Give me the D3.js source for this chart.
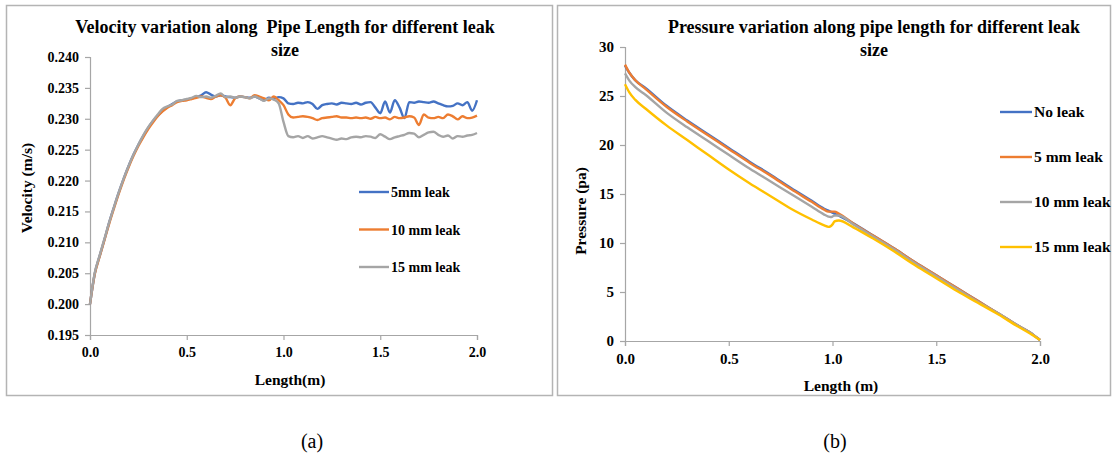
<!DOCTYPE html>
<html>
<head>
<meta charset="utf-8">
<script src="https://cdn.jsdelivr.net/npm/d3@7"></script>
<style>
  body { margin: 0; background: #fff; }
  svg { display: block; }
</style>
</head>
<body>
<svg id="fig" width="1114" height="456"></svg>
<script>
// ---- velocity data (panel a) ----
const velX = [0, 0.025, 0.05, 0.075, 0.1, 0.125, 0.15, 0.175, 0.2, 0.225, 0.25, 0.275, 0.3, 0.325, 0.35, 0.375, 0.4, 0.425, 0.45, 0.475,
  0.5, 0.525, 0.55, 0.575, 0.6, 0.625, 0.65, 0.675, 0.7, 0.725, 0.75, 0.775, 0.8, 0.825, 0.85, 0.875, 0.9, 0.925, 0.95, 0.975,
  1.0, 1.025, 1.05, 1.075, 1.1, 1.125, 1.15, 1.175, 1.2, 1.225, 1.25, 1.275, 1.3, 1.325, 1.35, 1.375, 1.4, 1.425, 1.45, 1.475,
  1.5, 1.525, 1.55, 1.575, 1.6, 1.625, 1.65, 1.675, 1.7, 1.725, 1.75, 1.775, 1.8, 1.825, 1.85, 1.875, 1.9, 1.925, 1.95, 1.975, 2.0];

const vel5mm = [0.2000, 0.2050, 0.2078, 0.2105, 0.2133, 0.2158, 0.2182, 0.2204, 0.2224, 0.2242, 0.2258, 0.2272, 0.2285, 0.2296, 0.2305, 0.2313, 0.2319, 0.2324, 0.2328, 0.2330,
  0.2331, 0.2333, 0.2335, 0.2338, 0.2343, 0.2339, 0.2336, 0.2338, 0.2336, 0.2335, 0.2334, 0.2336, 0.2335, 0.2334, 0.2336, 0.2333, 0.2330, 0.2334, 0.2333, 0.2335,
  0.2333, 0.2325, 0.2324, 0.2326, 0.2325, 0.2327, 0.2324, 0.2316, 0.2322, 0.2324, 0.2325, 0.2323, 0.2326, 0.2325, 0.2324, 0.2326, 0.2323, 0.2326, 0.2327, 0.2318,
  0.2309, 0.2328, 0.2310, 0.2330, 0.2318, 0.2301, 0.2327, 0.2326, 0.2328, 0.2327, 0.2326, 0.2328, 0.2325, 0.2322, 0.2320, 0.2321, 0.2325, 0.2322, 0.2327, 0.2313, 0.2330];

const vel10mm = [0.2000, 0.2049, 0.2077, 0.2104, 0.2131, 0.2156, 0.2180, 0.2202, 0.2222, 0.2240, 0.2256, 0.2270, 0.2283, 0.2294, 0.2304, 0.2312, 0.2318, 0.2322, 0.2327, 0.2329,
  0.2330, 0.2332, 0.2334, 0.2336, 0.2334, 0.2332, 0.2336, 0.2338, 0.2334, 0.2322, 0.2333, 0.2336, 0.2335, 0.2333, 0.2338, 0.2336, 0.2333, 0.2330, 0.2336, 0.2330,
  0.2322, 0.2307, 0.2302, 0.2303, 0.2304, 0.2303, 0.2301, 0.2298, 0.2301, 0.2302, 0.2303, 0.2304, 0.2302, 0.2302, 0.2301, 0.2302, 0.2301, 0.2302, 0.2300, 0.2303,
  0.2301, 0.2302, 0.2299, 0.2303, 0.2301, 0.2302, 0.2304, 0.2302, 0.2290, 0.2307, 0.2302, 0.2301, 0.2303, 0.2301, 0.2307, 0.2304, 0.2299, 0.2304, 0.2301, 0.2302, 0.2305];

const vel15mm = [0.2000, 0.2051, 0.2079, 0.2106, 0.2133, 0.2158, 0.2182, 0.2204, 0.2224, 0.2242, 0.2258, 0.2273, 0.2286, 0.2297, 0.2307, 0.2316, 0.2320, 0.2323, 0.2329, 0.2330,
  0.2332, 0.2334, 0.2337, 0.2335, 0.2336, 0.2334, 0.2337, 0.2341, 0.2335, 0.2336, 0.2334, 0.2336, 0.2335, 0.2333, 0.2336, 0.2333, 0.2329, 0.2333, 0.2331, 0.2325,
  0.2295, 0.2272, 0.2270, 0.2272, 0.2269, 0.2272, 0.2268, 0.2270, 0.2272, 0.2270, 0.2268, 0.2266, 0.2268, 0.2267, 0.2270, 0.2271, 0.2270, 0.2272, 0.2271, 0.2269,
  0.2275, 0.2271, 0.2267, 0.2270, 0.2272, 0.2274, 0.2277, 0.2276, 0.2270, 0.2274, 0.2278, 0.2279, 0.2274, 0.2271, 0.2273, 0.2268, 0.2272, 0.2271, 0.2273, 0.2274, 0.2277];

const velNames = ["5mm leak", "10 mm leak", "15 mm leak"];
const velTicks = [0.195, 0.200, 0.205, 0.210, 0.215, 0.220, 0.225, 0.230, 0.235, 0.240];

// ---- pressure data (panel b) ----
const presX = [0, 0.02, 0.05, 0.1, 0.2, 0.3, 0.4, 0.5, 0.6, 0.7, 0.8, 0.9, 0.96, 0.98, 0.99, 1.0, 1.01, 1.03, 1.1, 1.2, 1.3, 1.4, 1.5, 1.6, 1.7, 1.8, 1.9, 1.95, 2.0];
const presNoLeak = [28.1, 27.4, 26.6, 25.8, 24.0, 22.5, 21.1, 19.7, 18.3, 17.0, 15.6, 14.3, 13.5, 13.3, 13.2, 13.1, 13.0, 12.8, 12.0, 10.7, 9.4, 8.0, 6.7, 5.4, 4.1, 2.8, 1.5, 0.9, 0.1];
const pres5mm = [28.2, 27.4, 26.6, 25.7, 23.9, 22.4, 21.0, 19.6, 18.2, 16.9, 15.5, 14.2, 13.4, 13.2, 13.2, 13.2, 13.2, 13.0, 12.0, 10.7, 9.4, 8.0, 6.7, 5.4, 4.1, 2.8, 1.5, 0.9, 0.1];
const pres10mm = [27.3, 26.6, 25.9, 25.1, 23.3, 21.8, 20.4, 19.0, 17.6, 16.3, 15.0, 13.7, 12.9, 12.7, 12.65, 12.7, 12.8, 12.8, 11.9, 10.6, 9.3, 7.9, 6.6, 5.3, 4.0, 2.8, 1.5, 0.9, 0.1];
const pres15mm = [26.2, 25.4, 24.6, 23.7, 22.0, 20.5, 19.0, 17.5, 16.1, 14.8, 13.5, 12.4, 11.8, 11.65, 11.7, 11.9, 12.2, 12.3, 11.6, 10.4, 9.1, 7.7, 6.4, 5.1, 3.9, 2.7, 1.4, 0.8, 0.1];
const presNames = ["No leak", "5 mm leak", "10 mm leak", "15 mm leak"];
const presTicks = [0, 5, 10, 15, 20, 25, 30];

const xTicks = [0, 0.5, 1.0, 1.5, 2.0];
const blue = "#4472C4", orange = "#ED7D31", grey = "#A5A5A5", yellow = "#FFC000";
const axisColor = "#A6A6A6";
const serif = "'Liberation Serif', 'Times New Roman', serif";

const svg = d3.select("#fig");
svg.append("rect").attr("width", 1114).attr("height", 456).attr("fill", "#fff");

// panel frames
svg.append("rect").attr("x", 6.5).attr("y", 5.5).attr("width", 546).attr("height", 390)
  .attr("fill", "none").attr("stroke", "#B4B4B4").attr("stroke-width", 1.5);
svg.append("rect").attr("x", 557.5).attr("y", 5.5).attr("width", 553).attr("height", 390)
  .attr("fill", "none").attr("stroke", "#B4B4B4").attr("stroke-width", 1.5);

function bold(sel, size) {
  return sel.style("font-family", serif).style("font-weight", "bold").style("font-size", size + "px");
}

function drawChart(o) {
  const g = svg.append("g");
  const x = d3.scaleLinear().domain([0, 2]).range([o.left, o.right]);
  const y = d3.scaleLinear().domain(o.yDomain).range([o.bottom, o.top]);

  const xAxis = g.append("g").attr("transform", `translate(0,${o.bottom})`)
    .call(d3.axisBottom(x).tickValues(xTicks).tickFormat(d3.format(".1f")).tickSize(5).tickPadding(7));
  const yAxis = g.append("g").attr("transform", `translate(${o.left},0)`)
    .call(d3.axisLeft(y).tickValues(o.yTicks).tickFormat(o.yFormat).tickSize(5).tickPadding(6));
  [xAxis, yAxis].forEach(a => {
    a.attr("font-family", null);
    a.select(".domain").attr("stroke", axisColor).attr("stroke-width", 1.2);
    a.selectAll(".tick line").attr("stroke", axisColor).attr("stroke-width", 1.2);
    bold(a.selectAll("text").attr("fill", "#000"), o.tickSize);
  });

  const line = d3.line()
    .x((d, i) => x(o.xs[i]))
    .y(d => y(d))
    .curve(d3.curveMonotoneX);

  o.series.forEach(s => {
    g.append("path").datum(s.values)
      .attr("fill", "none").attr("stroke", s.color)
      .attr("stroke-width", 2.4).attr("stroke-linejoin", "round")
      .attr("d", line);
  });

  // title
  const t = bold(g.append("text").attr("text-anchor", "middle"), 18);
  t.append("tspan").attr("x", o.titleX).attr("y", o.titleY).text(o.title[0]);
  t.append("tspan").attr("x", o.titleX).attr("y", o.titleY + 23).text(o.title[1]);

  // axis titles
  bold(g.append("text").attr("x", o.xLabelX).attr("y", o.bottom + 50)
    .attr("text-anchor", "middle"), 15.5)
    .text(o.xLabel);
  bold(g.append("text").attr("transform", `translate(${o.yLabelX},${o.yLabelY}) rotate(-90)`)
    .attr("text-anchor", "middle"), 15.5)
    .text(o.yLabel);

  // legend
  o.series.forEach((s, i) => {
    const ly = o.legendY + i * o.legendGap;
    g.append("line").attr("x1", o.legendX).attr("x2", o.legendX + o.legendLen)
      .attr("y1", ly).attr("y2", ly).attr("stroke", s.color).attr("stroke-width", 2.4);
    bold(g.append("text").attr("x", o.legendX + o.legendLen + 2).attr("y", ly + 5), o.legendSize)
      .text(s.name);
  });
}

drawChart({
  left: 90, right: 477, top: 57, bottom: 335,
  yDomain: [0.195, 0.240], yTicks: velTicks, yFormat: d3.format(".3f"),
  xs: velX, tickSize: 14, legendSize: 14,
  series: [
    { name: velNames[0], values: vel5mm, color: blue },
    { name: velNames[1], values: vel10mm, color: orange },
    { name: velNames[2], values: vel15mm, color: grey }
  ],
  title: ["Velocity variation along\u00a0 Pipe Length for different leak", "size"],
  titleX: 285, titleY: 33,
  xLabel: "Length(m)", xLabelX: 290,
  yLabel: "Velocity (m/s)", yLabelX: 32, yLabelY: 188,
  legendX: 359, legendLen: 30, legendY: 192, legendGap: 37.5
});

drawChart({
  left: 625, right: 1040, top: 47, bottom: 341,
  yDomain: [0, 30], yTicks: presTicks, yFormat: d3.format("d"),
  xs: presX, tickSize: 15, legendSize: 15.5,
  series: [
    { name: presNames[0], values: presNoLeak, color: blue },
    { name: presNames[1], values: pres5mm, color: orange },
    { name: presNames[2], values: pres10mm, color: grey },
    { name: presNames[3], values: pres15mm, color: yellow }
  ],
  title: ["Pressure variation along pipe length for different leak", "size"],
  titleX: 874, titleY: 33,
  xLabel: "Length (m)", xLabelX: 841,
  yLabel: "Pressure (pa)", yLabelX: 586, yLabelY: 211,
  legendX: 1000, legendLen: 32, legendY: 112, legendGap: 45
});

// sub-figure captions
svg.append("text").attr("x", 312).attr("y", 448).attr("text-anchor", "middle")
  .style("font-family", serif).style("font-size", "20px").text("(a)");
svg.append("text").attr("x", 835).attr("y", 448).attr("text-anchor", "middle")
  .style("font-family", serif).style("font-size", "20px").text("(b)");
</script>
</body>
</html>
